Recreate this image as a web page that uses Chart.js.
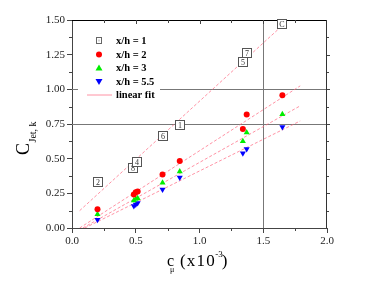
<!DOCTYPE html>
<html><head><meta charset="utf-8">
<script src="https://cdn.jsdelivr.net/npm/chart.js@4/dist/chart.umd.min.js"></script>
<style>html,body{margin:0;padding:0;background:#fff}</style>
</head><body>
<canvas id="c" width="374" height="288"></canvas>
<script>
// ---- data ----
const xTicks = [0, 0.5, 1.0, 1.5, 2.0];
const yTicks = [0, 0.25, 0.5, 0.75, 1.0, 1.25, 1.5];

const xh1X = [0.20, 0.48, 0.51, 0.71, 0.845, 1.34, 1.37, 1.65];
const xh1Y = [0.33, 0.435, 0.476, 0.662, 0.741, 1.20, 1.26, 1.47];
const xh1Labels = ['2', '8', '4', '6', '1', '5', '7', 'C'];

const cmu = [0.20, 0.485, 0.50, 0.515, 0.71, 0.845, 1.34, 1.37, 1.65];
const xh2 = [0.136, 0.242, 0.257, 0.264, 0.385, 0.483, 0.714, 0.818, 0.958];
const xh3 = [0.100, 0.199, 0.210, 0.215, 0.327, 0.408, 0.625, 0.688, 0.820];
const xh55 = [0.060, 0.158, 0.170, 0.180, 0.278, 0.365, 0.539, 0.570, 0.729];

const fit1X = [0.06, 1.62], fit1Y = [0.125, 1.435];
const fit2X = [0.06, 1.79], fit2Y = [0.0, 1.025];
const fit3X = [0.085, 1.79], fit3Y = [0.0, 0.881];
const fit55X = [0.10, 1.79], fit55Y = [0.0, 0.772];

const refLinesY = [0.75, 1.0];
const refLinesX = [1.5];

const seriesNames = ['x/h = 1', 'x/h = 2', 'x/h = 3', 'x/h = 5.5', 'linear fit'];

// ---- helpers ----
const zip = (xs, ys) => xs.map((x, i) => ({x: x, y: ys[i]}));
const SERIF = '"Liberation Serif", "DejaVu Serif", serif';
const FIT_COLOR = 'rgba(255,100,125,0.7)';

function fitDs(xs, ys) {
  return {label: 'linear fit', data: zip(xs, ys), showLine: true, borderColor: FIT_COLOR,
    borderWidth: 1, borderDash: [3, 2], pointRadius: 0, fill: false};
}

function spaced(ctx, text, x, y, sp) {
  for (const ch of text) { ctx.fillText(ch, x, y); x += ctx.measureText(ch).width + sp; }
  return x - sp;
}

const decor = {
  id: 'decor',
  beforeDatasetsDraw(chart) {
    const {ctx, chartArea: a, scales: {x, y}} = chart;
    ctx.save();
    ctx.strokeStyle = '#777'; ctx.lineWidth = 1;
    refLinesY.forEach(v => { const py = Math.round(y.getPixelForValue(v)) + 0.5;
      ctx.beginPath(); ctx.moveTo(a.left, py); ctx.lineTo(a.right, py); ctx.stroke(); });
    refLinesX.forEach(v => { const px = Math.round(x.getPixelForValue(v)) + 0.5;
      ctx.beginPath(); ctx.moveTo(px, a.top); ctx.lineTo(px, a.bottom); ctx.stroke(); });
    ctx.strokeStyle = '#000';
    ctx.beginPath(); ctx.moveTo(a.left, a.top + 0.5); ctx.lineTo(a.right, a.top + 0.5); ctx.stroke();
    ctx.strokeStyle = '#333';
    ctx.beginPath(); ctx.moveTo(a.right - 0.5, a.top); ctx.lineTo(a.right - 0.5, a.bottom); ctx.stroke();
    ctx.strokeStyle = '#444';
    for (let v = 0.125; v < 1.5; v += 0.25) {
      const py = Math.round(y.getPixelForValue(v)) + 0.5;
      ctx.beginPath(); ctx.moveTo(a.left - 3, py); ctx.lineTo(a.left, py); ctx.stroke();
    }
    for (let v = 0.25; v < 2; v += 0.5) {
      const px = Math.round(x.getPixelForValue(v)) + 0.5;
      ctx.beginPath(); ctx.moveTo(px, a.bottom); ctx.lineTo(px, a.bottom + 3); ctx.stroke();
    }
    for (let v = 0.25; v < 2; v += 0.25) {
      const px = Math.round(x.getPixelForValue(v)) + 0.5;
      const len = (Math.abs(v * 2 - Math.round(v * 2)) < 1e-6) ? 4 : 3;
      ctx.beginPath(); ctx.moveTo(px, a.top); ctx.lineTo(px, a.top + len); ctx.stroke();
    }
    for (let v = 0.125; v < 1.5; v += 0.125) {
      const py = Math.round(y.getPixelForValue(v)) + 0.5;
      const len = (Math.abs(v * 4 - Math.round(v * 4)) < 1e-6) ? 4 : 3;
      ctx.beginPath(); ctx.moveTo(a.right, py); ctx.lineTo(a.right + len - 1, py); ctx.stroke();
    }
    ctx.restore();
  },
  afterDatasetsDraw(chart) {
    const {ctx, chartArea: a} = chart;
    ctx.save();
    const meta = chart.getDatasetMeta(0);
    ctx.font = '8px ' + SERIF; ctx.textAlign = 'center'; ctx.textBaseline = 'middle';
    meta.data.forEach((pt, i) => {
      const px = Math.round(pt.x), py = Math.round(pt.y);
      ctx.fillStyle = '#fff'; ctx.fillRect(px - 4.5, py - 4.5, 9, 9);
      ctx.strokeStyle = '#555'; ctx.lineWidth = 1; ctx.strokeRect(px - 4.5, py - 4.5, 9, 9);
      ctx.fillStyle = '#333'; ctx.fillText(xh1Labels[i], px, py + 0.5);
    });
    const lx = 99, tx = 116, rows = [41, 54.5, 68, 81.5, 94.5];
    ctx.fillStyle = '#fff'; ctx.fillRect(a.left + 6, 32, 82, 68);
    ctx.strokeStyle = '#666'; ctx.strokeRect(lx - 2.5, rows[0] - 3.5, 5, 6);
    ctx.fillStyle = '#aaa'; ctx.fillRect(lx - 0.5, rows[0] - 1.5, 1, 2);
    ctx.fillStyle = '#ff0000'; ctx.beginPath(); ctx.arc(lx, rows[1], 3, 0, Math.PI * 2); ctx.fill();
    ctx.fillStyle = '#00ee00'; ctx.beginPath();
    ctx.moveTo(lx, rows[2] - 3.5); ctx.lineTo(lx + 3.5, rows[2] + 2.5); ctx.lineTo(lx - 3.5, rows[2] + 2.5); ctx.closePath(); ctx.fill();
    ctx.fillStyle = '#0000ff'; ctx.beginPath();
    ctx.moveTo(lx, rows[3] + 3.5); ctx.lineTo(lx + 3.5, rows[3] - 2.5); ctx.lineTo(lx - 3.5, rows[3] - 2.5); ctx.closePath(); ctx.fill();
    ctx.strokeStyle = FIT_COLOR; ctx.lineWidth = 1; ctx.beginPath();
    ctx.moveTo(87, rows[4] + 0.5); ctx.lineTo(112, rows[4] + 0.5); ctx.stroke();
    ctx.fillStyle = '#000'; ctx.font = 'bold 10.5px ' + SERIF; ctx.textAlign = 'left'; ctx.textBaseline = 'middle';
    seriesNames.forEach((n, i) => ctx.fillText(n, tx, rows[i] + 0.5));

    // y-axis title: C_{Jet, k}
    ctx.fillStyle = '#000'; ctx.textBaseline = 'alphabetic';
    ctx.translate(29, 155); ctx.rotate(-Math.PI / 2);
    ctx.font = '18px ' + SERIF; ctx.fillText('C', 0, 0);
    const wC = ctx.measureText('C').width;
    ctx.font = '10px ' + SERIF; ctx.fillText('Jet, k', wC + 0.5, 7);
    ctx.setTransform(1, 0, 0, 1, 0, 0);

    // x-axis title: c_μ (x10^-3)
    const by = 266;
    ctx.font = '16px ' + SERIF; ctx.fillText('c', 167, by);
    ctx.font = '8px ' + SERIF; ctx.fillText('\u03bc', 170, by + 6);
    ctx.font = '17px ' + SERIF;
    let cx = spaced(ctx, '(x10', 180, by, 1.2);
    ctx.font = '9px ' + SERIF; ctx.fillText('-3', cx + 0.5, by - 9);
    ctx.font = '17px ' + SERIF; ctx.fillText(')', cx + 7, by);
    ctx.restore();
  }
};

const tickFont = {family: SERIF, size: 11};

new Chart(document.getElementById('c'), {
  type: 'scatter',
  data: {
    datasets: [
      {label: seriesNames[0], data: zip(xh1X, xh1Y), pointRadius: 0, pointHoverRadius: 0},
      {label: seriesNames[1], data: zip(cmu, xh2), pointStyle: 'circle', pointRadius: 3,
        backgroundColor: '#ff0000', borderColor: '#ff0000', borderWidth: 0},
      {label: seriesNames[2], data: zip(cmu, xh3), pointStyle: 'triangle', pointRadius: 3.5,
        backgroundColor: '#00ee00', borderColor: '#00ee00', borderWidth: 0},
      {label: seriesNames[3], data: zip(cmu, xh55), pointStyle: 'triangle', pointRotation: 180, pointRadius: 3.5,
        backgroundColor: '#0000ff', borderColor: '#0000ff', borderWidth: 0},
      fitDs(fit1X, fit1Y), fitDs(fit2X, fit2Y), fitDs(fit3X, fit3Y), fitDs(fit55X, fit55Y)
    ]
  },
  options: {
    responsive: false, animation: false, devicePixelRatio: 1,
    layout: {padding: {top: 20, right: 47, left: 0, bottom: 0}},
    plugins: {legend: {display: false}, tooltip: {enabled: false}},
    scales: {
      x: {type: 'linear', min: 0, max: 2,
        afterBuildTicks: s => { s.ticks = xTicks.map(v => ({value: v})); },
        ticks: {callback: v => Number(v).toFixed(1), font: tickFont, color: '#222', padding: 2, maxRotation: 0},
        grid: {drawOnChartArea: false, tickLength: 5, color: '#444'},
        border: {color: '#444'},
        afterFit: s => { s.height = 60; }},
      y: {type: 'linear', min: 0, max: 1.5,
        afterBuildTicks: s => { s.ticks = yTicks.map(v => ({value: v})); },
        ticks: {callback: v => Number(v).toFixed(2), font: tickFont, color: '#222', padding: 2},
        grid: {drawOnChartArea: false, tickLength: 5, color: '#444'},
        border: {color: '#444'},
        afterFit: s => { s.width = 72; }}
    }
  },
  plugins: [decor]
});
</script>
</body></html>
